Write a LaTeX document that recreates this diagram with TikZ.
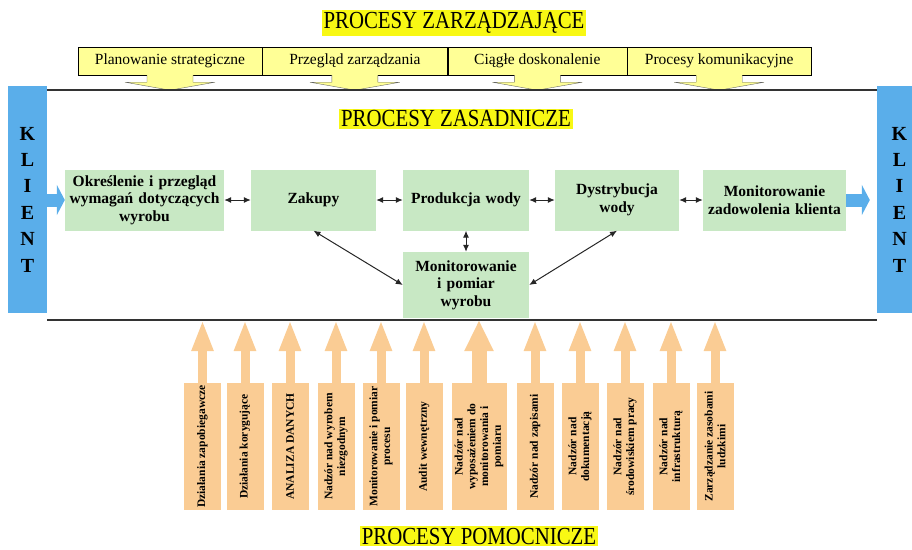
\documentclass[tikz,border=0pt]{standalone}
\usepackage{fontspec}
\setmainfont{Liberation Serif}
\newfontfamily\narrowfont[FakeStretch=0.85]{Liberation Serif}
\usetikzlibrary{arrows.meta,positioning}
\definecolor{hilite}{RGB}{248,248,20}
\definecolor{paleyellow}{RGB}{255,255,150}
\definecolor{palegreen}{RGB}{200,232,196}
\definecolor{skyblue}{RGB}{90,174,234}
\definecolor{peach}{RGB}{250,204,148}

\begin{document}
\begin{tikzpicture}[x=1pt,y=-1pt,>={Latex[length=7pt,width=6pt]},
  heading/.style={fill=hilite,inner sep=2pt,font=\narrowfont\fontsize{24.5}{26}\selectfont},
  mgmt/.style={draw,fill=paleyellow,minimum height=28,inner sep=0pt,font=\fontsize{15.5}{17}\selectfont},
  chevron/.pic={\filldraw[fill=paleyellow,draw=black!60] (-23,0) -- (-23,7) -- (-45,7) -- (0,15) -- (45,7) -- (23,7) -- (23,0);},
  proc/.style={fill=palegreen,align=center,inner sep=2pt,minimum height=61,font=\bfseries\fontsize{15.5}{17.5}\selectfont},
  client/.style={fill=skyblue,minimum width=39,minimum height=227,align=center,inner sep=0pt,font=\bfseries\fontsize{20}{26.4}\selectfont},
  feed/.style={skyblue,line width=13pt,-{Triangle[length=8pt,width=30pt]}},
  link/.style={<->,line width=1pt,black!85},
  rule/.style={line width=1.2pt,black!80},
  support/.style={fill=peach,rotate=90,minimum width=127,minimum height=37,align=center,inner sep=1pt,font=\bfseries\fontsize{11.5}{12.8}\selectfont},
  lift/.style={peach,line width=9pt,-{Triangle[length=31pt,width=20pt]}}]

  \useasboundingbox (0,0) rectangle (912,549);

  % zarzadzajace
  \node[heading]                   (mtitle) at (454,23)  {PROCESY ZARZĄDZAJĄCE};
  \node[mgmt,minimum width=184]    (t1)     at (170,61)  {Planowanie strategiczne};
  \node[mgmt,minimum width=185,right=0pt of t1] (t2)     {Przegląd zarządzania};
  \node[mgmt,minimum width=179,right=0pt of t2] (t3)     {Ciągłe doskonalenie};
  \node[mgmt,minimum width=184,right=0pt of t3] (t4)     {Procesy komunikacyjne};
  \pic at (t1.south) {chevron};
  \pic at (t2.south) {chevron};
  \pic at (t3.south) {chevron};
  \pic at (t4.south) {chevron};

  % klient
  \node[client]                    (kl)     at (27.5,199.5) {K\\L\\I\\E\\N\\T};
  \node[client,minimum width=45]   (kr)     at (899.5,199.5) {K\\L\\I\\E\\N\\T};
  \coordinate (upper) at (0,90);
  \coordinate (lower) at (0,320);
  \draw[rule] (kl.east |- upper) -- (kr.west |- upper);

  % zasadnicze
  \node[heading]                   (ctitle) at (456,119) {PROCESY ZASADNICZE};
  \node[proc,text width=155]       (b1)     at (144.5,200) {Określenie i przegląd\\wymagań dotyczących\\wyrobu};
  \node[proc,text width=121]       (b2)     at (313.5,200) {Zakupy};
  \node[proc,text width=122]       (b3)     at (466,200)   {Produkcja wody};
  \node[proc,text width=120]       (b4)     at (617,200)   {Dystrybucja\\wody};
  \node[proc,text width=139]       (b5)     at (774.5,200) {Monitorowanie\\zadowolenia klienta};
  \node[proc,text width=122,minimum height=66] (b6) at (466,285) {Monitorowanie\\i pomiar\\wyrobu};
  \path[link] (b1) edge (b2)
              (b2) edge (b3)
              (b3) edge (b4)
              (b4) edge (b5)
              (b3) edge (b6)
              (b2.south) edge (b6.west)
              (b4.south) edge (b6.east);
  \draw[feed] (kl.east |- b1.west) -- (b1.west);
  \draw[feed,shorten >=7pt] (b5.east) -- (b5.east -| kr.west);

  % pomocnicze
  \node[support] (o1)  at (202.5,446.5) {Działania zapobiegawcze};
  \node[support] (o2)  at (245,446.5)   {Działania korygujące};
  \node[support] (o3)  at (290,446.5)   {ANALIZA DANYCH};
  \node[support] (o4)  at (336,446.5)   {Nadzór nad wyrobem\\niezgodnym};
  \node[support] (o5)  at (381,446.5)   {Monitorowanie i pomiar\\procesu};
  \node[support] (o6)  at (424,446.5)   {Audit wewnętrzny};
  \node[support,minimum height=55] (o7) at (479,446.5) {Nadzór nad\\wyposażeniem do\\monitorowania i\\pomiaru};
  \node[support] (o8)  at (535,446.5)   {Nadzór nad zapisami};
  \node[support] (o9)  at (580,446.5)   {Nadzór nad\\dokumentacją};
  \node[support] (o10) at (625,446.5)   {Nadzór nad\\środowiskiem pracy};
  \node[support] (o11) at (671,446.5)   {Nadzór nad\\infrastrukturą};
  \node[support] (o12) at (715,446.5)   {Zarządzanie zasobami\\ludzkimi};
  \draw[lift] (o1.east)  -- (o1.east |- lower);
  \draw[lift] (o2.east)  -- (o2.east |- lower);
  \draw[lift] (o3.east)  -- (o3.east |- lower);
  \draw[lift] (o4.east)  -- (o4.east |- lower);
  \draw[lift] (o5.east)  -- (o5.east |- lower);
  \draw[lift] (o6.east)  -- (o6.east |- lower);
  \draw[lift,line width=15pt,-{Triangle[length=31pt,width=27pt]}] (o7.east) -- (o7.east |- lower);
  \draw[lift] (o8.east)  -- (o8.east |- lower);
  \draw[lift] (o9.east)  -- (o9.east |- lower);
  \draw[lift] (o10.east) -- (o10.east |- lower);
  \draw[lift] (o11.east) -- (o11.east |- lower);
  \draw[lift] (o12.east) -- (o12.east |- lower);
  \draw[rule] (kl.east |- lower) -- (kr.west |- lower);
  \node[heading]                   (stitle) at (479,536) {PROCESY POMOCNICZE};
\end{tikzpicture}
\end{document}
